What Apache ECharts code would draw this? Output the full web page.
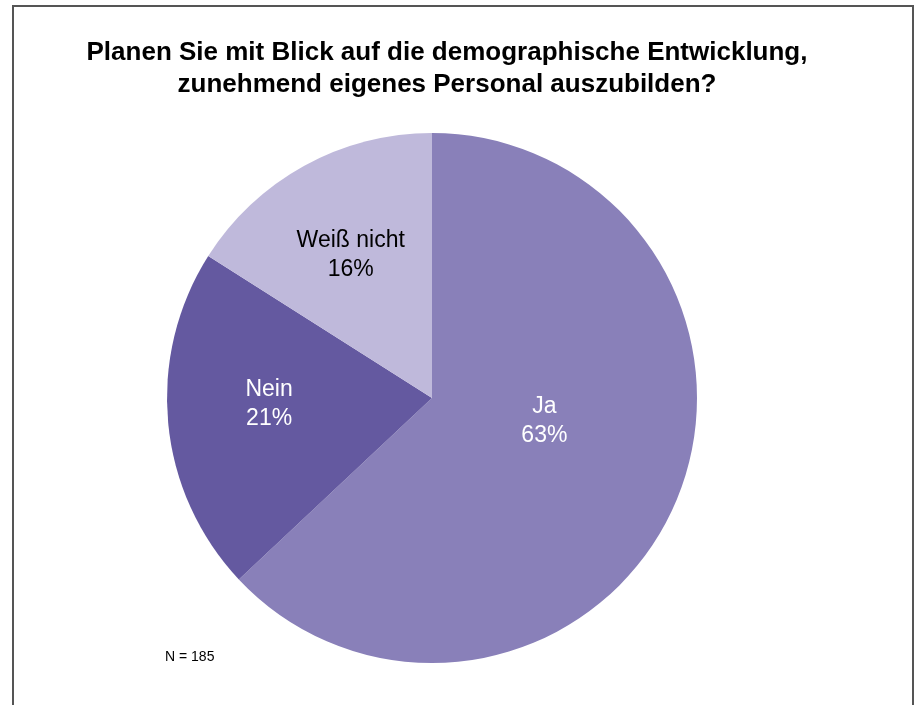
<!DOCTYPE html>
<html>
<head>
<meta charset="utf-8">
<script src="https://cdn.jsdelivr.net/npm/echarts@6/dist/echarts.min.js"></script>
<style>
html,body{margin:0;padding:0;background:#fff;}
#chart{width:914px;height:705px;}
</style>
</head>
<body>
<div id="chart"></div>
<script>
var categories = ['Ja', 'Nein', 'Weiß nicht'];
var values = [63, 21, 16];
var sliceColors = ['#8980B9', '#6459A0', '#BFB9DB'];
var labelColors = ['#ffffff', '#ffffff', '#000000'];
var titleText = 'Planen Sie mit Blick auf die demographische Entwicklung,\nzunehmend eigenes Personal auszubilden?';
var noteText = 'N = 185';
var labelShift = [[-12, -31], [-28, -7], [-16, -24]];

var chart = echarts.init(document.getElementById('chart'), null, {renderer: 'canvas'});
chart.setOption({
  backgroundColor: '#ffffff',
  animation: false,
  title: {
    text: titleText,
    left: 447,
    textAlign: 'center',
    top: 37,
    padding: 0,
    textStyle: {
      fontFamily: 'Liberation Sans, Arial, sans-serif',
      fontSize: 26,
      fontWeight: 'bold',
      color: '#000',
      lineHeight: 32
    }
  },
  graphic: [
    {
      type: 'rect',
      shape: {x: 13, y: 6, width: 900, height: 720},
      style: {fill: 'none', stroke: '#555555', lineWidth: 2},
      silent: true
    },
    {
      type: 'text',
      left: 165,
      top: 650,
      style: {
        text: noteText,
        font: '14px "Liberation Sans", Arial, sans-serif',
        fill: '#000'
      }
    }
  ],
  series: [{
    type: 'pie',
    center: [432, 398],
    radius: [0, 265],
    startAngle: 90,
    clockwise: true,
    label: {
      show: true,
      position: 'inside',
      formatter: function (p) { return p.name + '\n' + p.value + '%'; },
      fontFamily: 'Liberation Sans, Arial, sans-serif',
      fontSize: 23,
      lineHeight: 29,
      align: 'center'
    },
    labelLine: {show: false},
    labelLayout: function (params) {
      var s = labelShift[params.dataIndex];
      return {dx: s[0], dy: s[1]};
    },
    itemStyle: {borderWidth: 0},
    emphasis: {disabled: true},
    data: categories.map(function (c, i) {
      return {
        name: c,
        value: values[i],
        itemStyle: {color: sliceColors[i]},
        label: {color: labelColors[i]}
      };
    })
  }]
});
</script>
</body>
</html>
